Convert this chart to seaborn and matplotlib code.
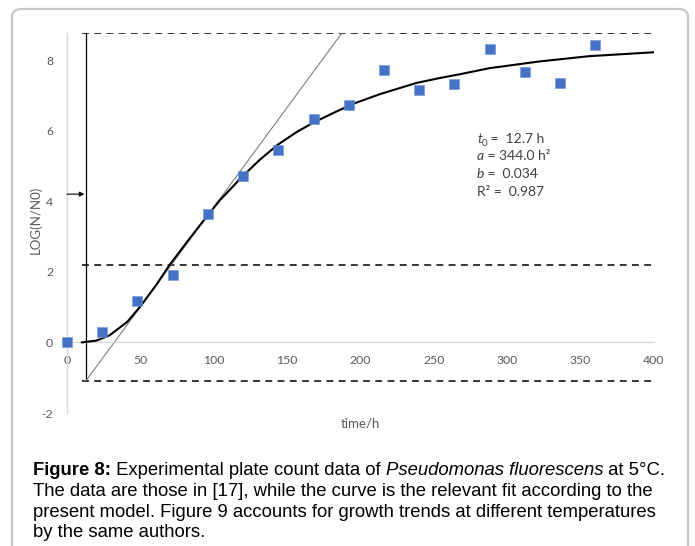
import seaborn as sns
import matplotlib.pyplot as plt
from matplotlib.patches import FancyBboxPatch
from matplotlib.transforms import IdentityTransform

# plate counts (every 24 h)
time_h = [0, 24, 48, 72, 96, 120, 144, 168, 192, 216, 240, 264, 288, 312, 336, 360]
log_n = [0.0, 0.29, 1.17, 1.90, 3.65, 4.72, 5.46, 6.34, 6.73, 7.71, 7.14, 7.33, 8.31, 7.66, 7.35, 8.43]

# fitted curve
fit_t = [10, 20, 29, 41, 50, 61, 70, 82, 94, 104, 119.5, 131.5, 143.6, 156.5, 168, 181.5, 195,
         213, 238, 254, 268, 288, 322, 356, 400]
fit_y = [0.0, 0.05, 0.20, 0.58, 1.02, 1.64, 2.20, 2.86, 3.50, 4.02, 4.70, 5.18, 5.60, 5.96, 6.23,
         6.50, 6.76, 7.03, 7.35, 7.49, 7.60, 7.77, 7.96, 8.11, 8.22]

# construction lines
t0 = 12.7
y_low, y_mid, y_top = -1.1, 2.18, 8.78
tangent_t = [12.7, 187.6]
tangent_y = [-1.1, 8.78]
arrow_y = 4.2

sns.set_theme(style="white")
plt.rcParams["font.family"] = ["Lato", "DejaVu Sans"]
plt.rcParams["axes.unicode_minus"] = False

W, H = 695, 546
fig = plt.figure(figsize=(W / 100, H / 100), dpi=100)
ax = fig.add_axes([67 / W, 1 - 413 / H, 587 / W, 380.5 / H])

# outer frame
frame = FancyBboxPatch((12 / W, -0.05), 676 / W, 1 - 9 / H + 0.05,
                       boxstyle="round,pad=0,rounding_size=0.014",
                       transform=fig.transFigure, fill=False,
                       edgecolor="#c8c8c8", linewidth=1.6, zorder=0)
fig.patches.append(frame)

# dashed levels
for lv in [y_low, y_mid, y_top]:
    ax.plot([10, 400], [lv, lv], color="black", lw=1.1, ls=(0, (4.5, 3.5)))
ax.plot([t0, t0], [y_low, y_top], color="black", lw=0.9)
ax.plot(tangent_t, tangent_y, color="#7f7f7f", lw=0.8)
ax.annotate("", xy=(t0 - 0.8, arrow_y), xytext=(0, arrow_y),
            arrowprops=dict(arrowstyle="-|>", color="black", lw=0.8,
                            mutation_scale=7, shrinkA=0, shrinkB=0))

sns.lineplot(x=fit_t, y=fit_y, ax=ax, color="black", lw=1.5, sort=False, zorder=3)
sns.scatterplot(x=time_h, y=log_n, ax=ax, marker="s", s=44, color="#4472C4",
                edgecolor="#6f93d6", linewidth=0.4, zorder=4, clip_on=False)

ax.set_xlim(0, 400)
ax.set_ylim(-2, 8.78)
ax.set_xticks(range(0, 401, 50))
ax.set_yticks(range(-2, 9, 2))
ax.spines["top"].set_visible(False)
ax.spines["right"].set_visible(False)
ax.spines["bottom"].set_position(("data", 0))
for s in ["left", "bottom"]:
    ax.spines[s].set_color("#d9d9d9")
    ax.spines[s].set_linewidth(1.0)
ax.tick_params(length=0, labelsize=8.8, labelcolor="#595959")
ax.tick_params(axis="x", pad=9)
ax.tick_params(axis="y", pad=10)
ax.set_xlabel("")
fig.text(360.5, H - 423, "time/h", transform=IdentityTransform(), ha="center", va="center",
         fontsize=9.5, color="#595959")
ax.set_ylabel("LOG(N/N0)", fontsize=9.5, color="#595959")
ax.yaxis.label.set_transform(IdentityTransform())
ax.yaxis.label.set_position((37, H - 220))
ax.yaxis.label.set_horizontalalignment("center")
ax.yaxis.label.set_verticalalignment("center")


def runs(x, y, parts, family, size, color):
    r = fig.canvas.get_renderer()
    for txt, style, weight, rel, dy in parts:
        kw = dict(family=family, size=size * rel, style=style, weight=weight)
        fig.text(x, H - y - dy, txt, transform=IdentityTransform(), va="baseline",
                 color=color, **kw)
        a = fig.text(0, 0, "|" + txt + "|", **kw)
        b = fig.text(0, 0, "||", **kw)
        x += a.get_window_extent(r).width - b.get_window_extent(r).width
        a.remove()
        b.remove()


# fit parameters
ann = "#404040"
n = "normal"
runs(477, 143, [("t", "italic", n, 1, 0), ("0", n, n, 0.7, 2.5), (" =  12.7 h", n, n, 1, 0)],
     "Lato", 10, ann)
runs(477, 160.5, [("a", "italic", n, 1, 0), (" = 344.0 h²", n, n, 1, 0)], "Lato", 10, ann)
runs(477, 178, [("b", "italic", n, 1, 0), (" =  0.034", n, n, 1, 0)], "Lato", 10, ann)
runs(477, 195.5, [("R² =  0.987", n, n, 1, 0)], "Lato", 10, ann)

# caption
cap = "Liberation Sans"
cs = 13.3
runs(33, 475.3, [("Figure 8:", n, "bold", 1, 0), (" Experimental plate count data of ", n, n, 1, 0),
                 ("Pseudomonas fluorescens", "italic", n, 1, 0), (" at 5°C.", n, n, 1, 0)], cap, cs, "black")
runs(33, 496, [("The data are those in [17], while the curve is the relevant fit according to the", n, n, 1, 0)],
     cap, cs, "black")
runs(33, 516.7, [("present model. Figure 9 accounts for growth trends at different temperatures", n, n, 1, 0)],
     cap, cs, "black")
runs(33, 537.3, [("by the same authors.", n, n, 1, 0)], cap, cs, "black")

fig.savefig("out.png", dpi=100)
